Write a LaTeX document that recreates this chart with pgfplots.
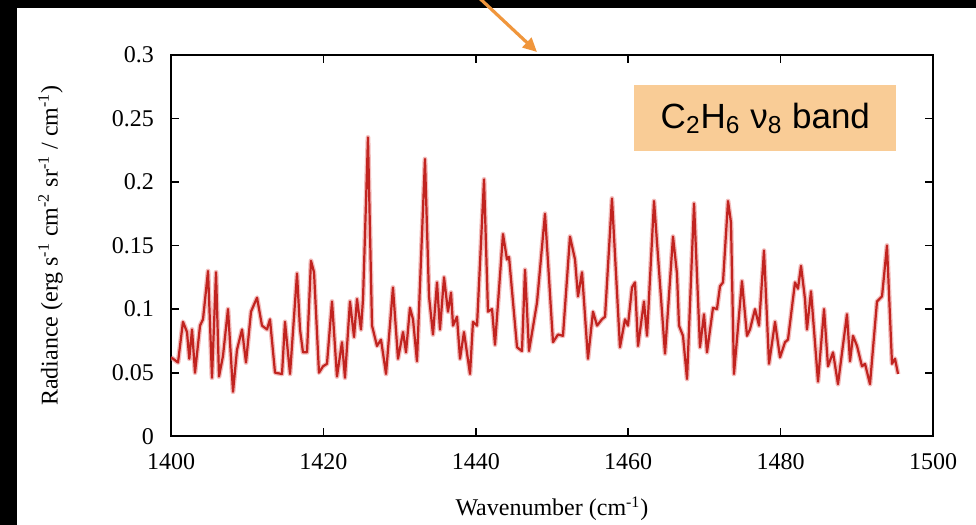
\documentclass[border=0pt]{standalone}
\usepackage{fontspec}
\setmainfont{Liberation Serif}
\newfontfamily\sansf{Liberation Sans}
\usepackage{pgfplots}
\pgfplotsset{compat=1.18}
\usetikzlibrary{arrows.meta}
\definecolor{spec}{RGB}{214,40,36}
\definecolor{boxfill}{RGB}{249,204,150}
\definecolor{arrowc}{RGB}{240,150,60}
\begin{document}
\begin{tikzpicture}[x=1pt,y=1pt]
\useasboundingbox (0,0) rectangle (488,262.5);
\fill[black] (0,0) rectangle (488,262.5);
\fill[white] (8.5,0) rectangle (488,258.5);
\begin{axis}[
  at={(85.5pt,44.35pt)}, anchor=south west,
  scale only axis, width=381pt, height=190.8pt,
  xmin=1400, xmax=1500, ymin=0, ymax=0.3,
  xtick={1400,1420,1440,1460,1480,1500},
  ytick={0,0.05,0.1,0.15,0.2,0.25,0.3},
  tick align=inside, major tick length=4pt,
  axis line style={line width=0.8pt},
  tick style={line width=0.8pt, black},
  every tick label/.append style={font=\fontsize{12}{14}\selectfont},
  /pgf/number format/assume math mode=true,
  /pgf/number format/1000 sep={},
  yticklabel style={xshift=-5pt, /pgf/number format/fixed},
  xticklabel style={yshift=-5pt},
  xlabel={Wavenumber (cm\textsuperscript{-1})},
  ylabel={Radiance (erg s\textsuperscript{-1} cm\textsuperscript{-2} sr\textsuperscript{-1} / cm\textsuperscript{-1})},
  label style={font=\fontsize{12}{14}\selectfont},
  xlabel style={at={(axis description cs:0.5,-0.19)}, anchor=center},
  ylabel style={at={(axis description cs:-0.158,0.5)}, anchor=center},
]
\pgfplotstableread{
w v
1400.00 0.062
1400.26 0.061
1400.92 0.058
1401.57 0.090
1402.10 0.082
1402.40 0.061
1402.76 0.084
1403.15 0.050
1403.81 0.087
1404.20 0.092
1404.86 0.130
1405.38 0.046
1405.91 0.129
1406.30 0.047
1406.82 0.063
1407.48 0.100
1408.14 0.035
1408.66 0.068
1409.32 0.084
1409.84 0.058
1410.50 0.098
1411.29 0.109
1411.94 0.087
1412.60 0.084
1412.99 0.092
1413.65 0.050
1414.57 0.049
1414.96 0.090
1415.62 0.049
1416.54 0.128
1416.93 0.084
1417.32 0.066
1417.85 0.066
1418.37 0.138
1418.77 0.129
1419.42 0.050
1419.95 0.055
1420.47 0.057
1421.13 0.106
1421.78 0.047
1422.44 0.074
1422.83 0.046
1423.49 0.106
1424.02 0.078
1424.41 0.108
1424.93 0.084
1425.20 0.108
1425.85 0.235
1426.38 0.087
1427.03 0.071
1427.56 0.076
1428.22 0.049
1429.13 0.117
1429.79 0.061
1430.45 0.082
1430.84 0.066
1431.36 0.101
1431.76 0.092
1432.28 0.059
1433.33 0.218
1433.86 0.110
1434.38 0.080
1434.91 0.121
1435.30 0.084
1435.83 0.125
1436.35 0.098
1436.75 0.113
1437.01 0.087
1437.53 0.094
1437.93 0.061
1438.45 0.082
1439.24 0.049
1439.63 0.090
1440.16 0.087
1441.08 0.202
1441.60 0.098
1442.13 0.100
1442.52 0.072
1443.57 0.159
1444.09 0.139
1444.36 0.141
1445.41 0.070
1446.06 0.067
1446.46 0.131
1446.98 0.067
1448.03 0.105
1449.08 0.175
1450.13 0.074
1450.79 0.080
1451.44 0.079
1452.36 0.157
1453.02 0.139
1453.41 0.110
1453.94 0.129
1454.72 0.061
1455.38 0.098
1455.91 0.087
1456.56 0.092
1456.96 0.094
1457.87 0.187
1458.92 0.070
1459.58 0.092
1459.97 0.087
1460.50 0.117
1460.89 0.121
1461.29 0.071
1462.07 0.106
1462.47 0.079
1463.39 0.185
1464.83 0.065
1465.88 0.157
1466.40 0.128
1466.67 0.087
1467.19 0.079
1467.72 0.045
1468.64 0.183
1469.42 0.070
1469.95 0.096
1470.34 0.066
1471.13 0.101
1471.65 0.100
1472.05 0.118
1472.44 0.121
1473.10 0.185
1473.49 0.168
1473.88 0.049
1474.93 0.122
1475.59 0.079
1475.98 0.084
1476.64 0.100
1477.17 0.087
1477.82 0.146
1478.48 0.057
1479.27 0.090
1479.92 0.062
1480.58 0.074
1480.97 0.076
1481.89 0.121
1482.28 0.116
1482.68 0.134
1483.20 0.108
1483.46 0.084
1483.99 0.114
1484.91 0.043
1485.70 0.100
1486.22 0.055
1486.88 0.066
1487.53 0.041
1488.71 0.096
1489.11 0.059
1489.50 0.079
1490.03 0.071
1490.68 0.055
1491.08 0.057
1491.73 0.041
1492.65 0.106
1493.31 0.110
1493.96 0.150
1494.62 0.057
1495.01 0.061
1495.41 0.049
}\spectrum
\addplot[spec!50, line width=2.4pt, line join=round, opacity=0.6] table[x=w,y=v] {\spectrum};
\addplot[spec!90!black, line width=1.1pt, line join=round] table[x=w,y=v] {\spectrum};
\node[fill=boxfill, minimum width=131pt, minimum height=33pt, inner sep=0pt,
  font=\sansf\fontsize{17.5}{20}\selectfont, text=black]
  at (axis cs:1478,0.25) {C\textsubscript{2}H\textsubscript{6} ν\textsubscript{8} band};
\end{axis}
\draw[arrowc, line width=1.6pt, -{Triangle[length=7pt,width=6.5pt]}] (237,266) -- (268.5,236.5);
\end{tikzpicture}
\end{document}
